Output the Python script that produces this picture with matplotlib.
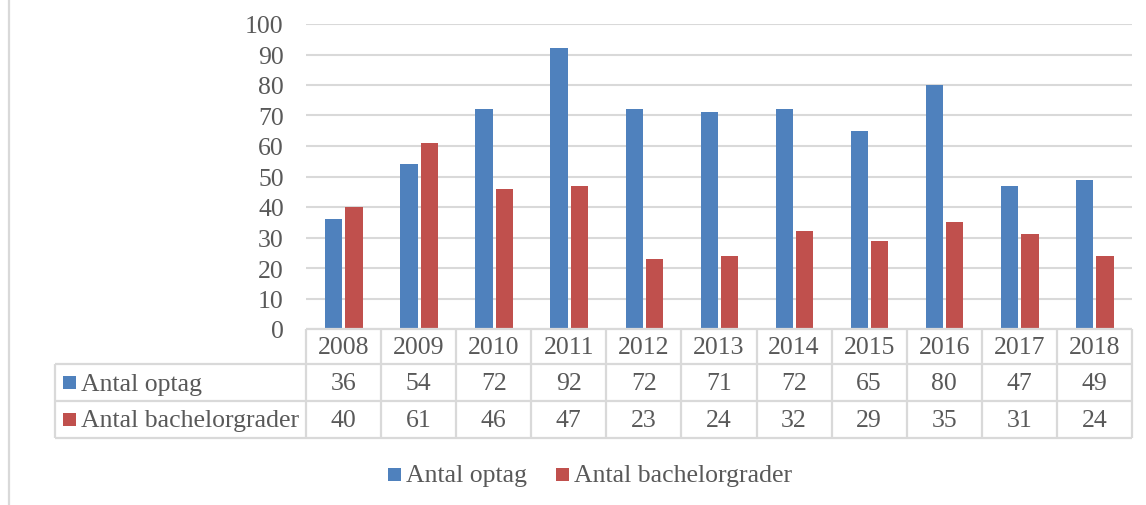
import matplotlib
matplotlib.use("Agg")
import matplotlib.pyplot as plt
from matplotlib.transforms import blended_transform_factory
from matplotlib.patches import Rectangle
from matplotlib.lines import Line2D

years = ["2008", "2009", "2010", "2011", "2012", "2013", "2014", "2015", "2016", "2017", "2018"]
optag = [36, 54, 72, 92, 72, 71, 72, 65, 80, 47, 49]
bachelor = [40, 61, 46, 47, 23, 24, 32, 29, 35, 31, 24]
series_names = ["Antal optag", "Antal bachelorgrader"]
yticks = [0, 10, 20, 30, 40, 50, 60, 70, 80, 90, 100]

BLUE = "#4F81BD"
RED = "#C0504D"
TXT = "#595959"
GRID = "#D9D9D9"
FONT = "Liberation Serif"
FS = 18.5

W, H = 1146, 506
fig = plt.figure(figsize=(W / 100, H / 100), dpi=100)

def fx(px):
    return px / W

def fy(py):
    return 1 - py / H

# plot area
left, right, top, bottom = 306, 1132, 25, 330
ax = fig.add_axes([fx(left), fy(bottom), fx(right) - fx(left), fy(top) - fy(bottom)])
n = len(years)
x = list(range(n))
bw = 0.23
ax.bar([i - 0.13 for i in x], optag, width=bw, color=BLUE, zorder=3)
ax.bar([i + 0.14 for i in x], bachelor, width=bw, color=RED, zorder=3)
ax.set_xlim(-0.5, n - 0.5)
ax.set_ylim(0, 100)
ax.set_yticks(yticks)
ax.set_yticklabels([str(v) for v in yticks], fontfamily=FONT, fontsize=FS, color=TXT)
ax.set_xticks([])
ax.tick_params(axis="y", length=0, pad=16)
for s in ax.spines.values():
    s.set_visible(False)
ax.grid(axis="y", color=GRID, linewidth=1.5, zorder=0)
ax.patch.set_alpha(0)

# data table
tr = blended_transform_factory(ax.transData, fig.transFigure)
rows_y = [330, 365, 402, 439]
lc = dict(color=GRID, linewidth=1.6, solid_capstyle="butt")
for py in rows_y:
    fig.add_artist(Line2D([-0.5, n - 0.5], [fy(py), fy(py)], transform=tr, **lc))
for py in rows_y[1:]:
    fig.add_artist(Line2D([fx(55), fx(left)], [fy(py), fy(py)], transform=fig.transFigure, **lc))
for k in range(n + 1):
    fig.add_artist(Line2D([k - 0.5, k - 0.5], [fy(330), fy(439)], transform=tr, **lc))
fig.add_artist(Line2D([fx(55), fx(55)], [fy(365), fy(439)], transform=fig.transFigure, **lc))

# header row
for i, yr in enumerate(years):
    fig.text(i, fy((330 + 365) / 2 + 1), yr, transform=tr, ha="center", va="center",
             fontfamily=FONT, fontsize=FS, color=TXT)
# value rows
for r, (vals, col, name) in enumerate(zip([optag, bachelor], [BLUE, RED], series_names)):
    cy = (rows_y[r + 1] + rows_y[r + 2]) / 2
    for i, v in enumerate(vals):
        fig.text(i, fy(cy + 1), str(v), transform=tr, ha="center", va="center",
                 fontfamily=FONT, fontsize=FS, color=TXT)
    fig.add_artist(Rectangle((fx(63), fy(cy + 6.5)), fx(13), 13 / H, transform=fig.transFigure,
                             facecolor=col, edgecolor="none"))
    fig.text(fx(81), fy(cy + 1), name, ha="left", va="center",
             fontfamily=FONT, fontsize=FS, color=TXT)

# bottom legend
leg_y = 475
for sx, tx, col, name in [(388, 406, BLUE, series_names[0]), (556, 574, RED, series_names[1])]:
    fig.add_artist(Rectangle((fx(sx), fy(leg_y + 6.5)), fx(13), 13 / H, transform=fig.transFigure,
                             facecolor=col, edgecolor="none"))
    fig.text(fx(tx), fy(leg_y + 1), name, ha="left", va="center",
             fontfamily=FONT, fontsize=FS, color=TXT)

# left border line
fig.add_artist(Line2D([fx(9), fx(9)], [0, 1], transform=fig.transFigure, color=GRID, linewidth=1.6))

fig.savefig("out.png", dpi=100)
